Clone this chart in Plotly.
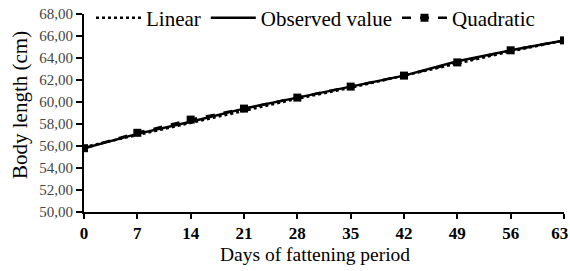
import plotly.graph_objects as go

days = [0, 7, 14, 21, 28, 35, 42, 49, 56, 63]
day_labels = ["0", "7", "14", "21", "28", "35", "42", "49", "56", "63\u00a0\u00a0"]
linear = [55.9, 57.0, 58.1, 59.2, 60.3, 61.3, 62.4, 63.5, 64.6, 65.6]
observed = [55.8, 57.1, 58.2, 59.4, 60.4, 61.4, 62.4, 63.7, 64.7, 65.6]
quadratic = [55.8, 57.2, 58.4, 59.4, 60.4, 61.4, 62.4, 63.6, 64.7, 65.6]
y_ticks = [50, 52, 54, 56, 58, 60, 62, 64, 66, 68]

FONT = "Liberation Serif"
L, R, T, B = 84, 6, 14, 59
W, H = 570, 271
PW, PH = W - L - R, H - T - B

fig = go.Figure()
fig.add_trace(go.Scatter(x=days, y=linear, name="Linear", mode="lines",
                         line=dict(color="black", width=2.5, dash="dot")))
fig.add_trace(go.Scatter(x=days, y=observed, name="Observed value", mode="lines",
                         line=dict(color="black", width=2.5)))
fig.add_trace(go.Scatter(x=days, y=quadratic, name="Quadratic", mode="lines+markers",
                         line=dict(color="black", width=2.5, dash="dash"),
                         marker=dict(symbol="square", size=8, color="black")))

fig.update_layout(
    width=W, height=H,
    margin=dict(l=L, r=R, t=T, b=B, autoexpand=False),
    paper_bgcolor="white", plot_bgcolor="white",
    separators=", ",
    font=dict(family=FONT, color="black"),
    showlegend=True,
    legend=dict(orientation="h", xref="container", yref="container",
                x=91 / W, y=1 - 18 / H, xanchor="left", yanchor="middle",
                font=dict(family=FONT, size=21, color="black"),
                bgcolor="rgba(255,255,255,0)", itemwidth=45, tracegroupgap=0),
    xaxis=dict(range=[0, 63], tickvals=days, ticktext=day_labels,
               showgrid=False, zeroline=False, showline=True, linecolor="black",
               linewidth=2, ticks="outside", ticklen=5, tickwidth=1.5, tickcolor="black",
               tickfont=dict(family=FONT, size=17, color="black", weight="bold"),
               ticklabeloverflow="allow", automargin=False),
    yaxis=dict(range=[50, 68], tickvals=y_ticks, tickformat=".2f",
               showgrid=False, zeroline=False, showline=True, linecolor="black",
               linewidth=2, ticks="outside", ticklen=6, tickwidth=1.5, tickcolor="black",
               tickfont=dict(family=FONT, size=15, color="#444"),
               automargin=False),
    annotations=[
        dict(text="Days of fattening period", xref="paper", yref="paper",
             x=(315 - L) / PW, y=(H - B - 254) / PH, xanchor="center", yanchor="middle",
             showarrow=False, font=dict(family=FONT, size=19.5, color="black")),
        dict(text="Body length (cm)", xref="paper", yref="paper",
             x=(20 - L) / PW, y=(H - B - 105) / PH, xanchor="center", yanchor="middle",
             textangle=-90, showarrow=False, font=dict(family=FONT, size=21, color="black")),
    ],
)

fig.write_html("out.html", config={"displayModeBar": False},
               post_script="document.body.style.margin='0';document.body.style.padding='0';")
